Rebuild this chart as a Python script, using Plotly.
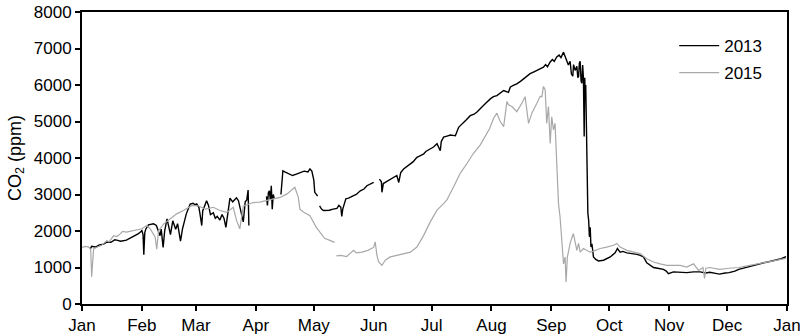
import pandas as pd
import plotly.graph_objects as go

# Day-of-year (fractional) and CO2 concentration (ppm); None marks a data gap
days_2013 = [4.3, 5, 7, 9, 11.2, 13, 15, 17, 18, 20, 23, 25, 27, 29, 30, 31, 31.6, 32, 32.5, 33,
             34.4, 36, 37, 38.5, 39.5, 40.4, 41, 42, 42.8, 44, 45, 45.8, 47, 48.5, 49.5, 51, 52, 53, 54, 55,
             56, 57.5, 58.5, 59.4, 60.5, 61, 62, 62.5, 63.5, 64.5, 65.5, 66.5, 68, 69, 70, 71.4, 72.5, 73.5,
             74.5, 75, 75.6, 76.6, 78, 79, 80, 81, 82, 82.8, 83.5, 84.5, 85.3, 86, 86.4, 87,
             95.5, 96, 96.5, 97, 97.5, 98, 98.5, 99, 99.5, 101,
             103, 103.5, 104, 105, 106, 107, 109, 111, 113, 115, 117, 118, 119, 120, 120.5, 121.5, 122, 122.5,
             123, 124, 125, 127, 128, 130, 132, 133, 134, 134.5, 135, 136.6, 138, 140.6, 142, 144.1, 146,
             147.5, 149, 151, 152,
             154, 155, 155.3, 156, 157, 159.6, 161, 163, 164, 165, 166.5, 168, 170, 171.5, 173.4, 175, 176.9,
             178, 180.3, 182, 183.8, 185.5, 186, 187.2, 189, 190.7, 192, 193.3, 195, 196, 197.6, 199, 201, 203,
             204.5, 206, 207.9, 209, 211.4, 213, 214.8, 216, 218.3, 220.8, 221.7, 223, 225.1, 227, 228.6, 230,
             232, 234, 235.5, 237, 238.9, 240, 241, 242.4, 243.5, 244.5, 245.8, 247, 248, 249.3, 250, 251,
             251.8, 252.7, 253.4, 254.1, 254.5, 255.3, 256.2, 256.7, 257.1, 257.5, 257.9, 258.4, 258.8, 259.2,
             259.6, 260, 260.3, 260.5, 260.8, 261, 261.4, 261.9, 262.3, 262.7, 263.1, 263.5, 264, 264.8, 266,
             267.4, 270, 273.5, 276, 277.2, 278.6, 280, 282.1, 285, 287.3, 289, 290.7, 292.4, 294, 295.9, 298,
             301, 302.5, 303.6, 306.2, 309.7, 313.1, 316.6, 320, 323, 325, 328, 330, 333, 335, 338, 340, 343,
             345, 348, 350, 353, 355, 358, 360, 362, 364.5]
co2_2013 = [1510, 1580, 1560, 1620, 1640, 1700, 1690, 1760, 1750, 1720, 1750, 1800, 1850, 1920, 1960, 2010, 1900, 1350, 1950, 2050,
            2170, 2180, 2200, 2150, 2000, 1870, 2050, 1550, 2000, 2330, 2100, 1900, 2280, 2050, 2200, 1720, 2050, 2300, 2470, 2600,
            2740, 2760, 2720, 2740, 2650, 2500, 2150, 2550, 2700, 2830, 2700, 2450, 2500, 2350, 2400, 2300, 2450, 2350,
            2100, 2280, 2400, 2900, 2800, 2850, 2910, 2830, 2600, 2350, 2250, 2800, 2850, 3120, 2150, None,
            2950, 2700, 3050, 3100, 2850, 3240, 2600, 3000, 2900, None,
            3000, 3300, 3650, 3620, 3600, 3560, 3520, 3560, 3600, 3640, 3620, 3700, 3640, 3400, 3060, 2970, 2960, None,
            2690, 2600, 2560, 2560, 2570, 2600, 2620, 2700, 2650, 2400, 2600, 2880, 2900, 2970, 3000, 3100, 3150,
            3240, 3280, 3330, None,
            3420, 3350, 3060, 3300, 3330, 3420, 3450, 3520, 3330, 3600, 3700, 3750, 3840, 3900, 4020, 4060, 4110,
            4180, 4250, 4300, 4390, 4200, 4450, 4570, 4600, 4630, 4620, 4610, 4840, 4900, 4980, 5050, 5160, 5200,
            5260, 5350, 5440, 5500, 5620, 5680, 5710, 5760, 5850, 5800, 5940, 5980, 6030, 6100, 6170, 6240,
            6310, 6360, 6400, 6440, 6490, 6560, 6500, 6630, 6700, 6650, 6770, 6820, 6750, 6900, 6800, 6700,
            6550, 6650, 6300, 6240, 6560, 6400, 6510, 6200, 6230, 6600, 6650, 6100, 6050, 6550,
            6200, 4590, 6200, 5700, 6000, 5140, 3860, 2490, 2300, 1840, 2100, 1560, 1650, 1290, 1220,
            1180, 1200, 1290, 1400, 1520, 1420, 1440, 1400, 1380, 1360, 1330, 1290, 1130, 1060, 1000, 980,
            950, 900, 830, 880, 860, 860, 880, 880, 850, 870, 840, 820, 850, 860, 900, 950, 990,
            1020, 1060, 1100, 1130, 1150, 1180, 1200, 1240, 1300]

days_2015 = [0, 2, 3.5, 4.5, 5, 5.5, 6, 8, 10, 12.9, 14, 16.4, 18, 19.8, 21, 23, 26, 28, 31, 33.6, 35.4,
             37.9, 38.7, 39.6, 42.2, 45.6, 49, 52.5, 57, 60, 64, 68, 71.4, 75, 78.3, 80, 81.7, 83.5, 88.6,
             92, 95.5, 99, 102.5, 106, 109.3, 110.2, 112, 112.8, 114.6, 118, 121.3, 123, 125.6, 128, 130.8,
             131.2,
             131.7, 134, 137, 140.6, 142, 145, 148, 151, 151.8, 152.7, 153.6, 155.3, 157, 159.6, 163, 166.5,
             170, 173.4, 176.9, 180.3, 183.8, 187.2, 188.9, 192.4, 195.8, 199.3, 202.7, 206.2, 209.6, 211,
             213.1, 214.8, 216.5, 218.3, 220, 220.8, 222.6, 225.1, 227.7, 229.4, 231.2, 232.9, 235.5, 237.2,
             238.1, 238.9, 239.8, 240.6, 241.5, 242.4, 243.2, 244.1, 244.9, 245.8, 246.7, 247.5, 248.4,
             249.3, 250.1, 250.6, 251.3, 252.7, 254.4, 255.3, 256.2, 257.1, 257.9, 259.6, 261.4, 263.1,
             264.8, 268.3, 271.7, 275.2, 276.9, 278.6, 282.1, 285.5, 289, 292.4, 295.9, 299.3, 302.8, 306.2,
             309.7, 313.1, 316.6, 319.2, 321.5, 322.3, 323, 325, 330, 335, 340, 345, 350, 355, 360, 364.5]
co2_2015 = [1550, 1580, 1560, 1500, 750, 1100, 1510, 1560, 1600, 1740, 1700, 1870, 1850, 1920, 1990, 1970, 2000, 2010, 2060, 2150, 2050,
            1830, 1500, 2000, 2190, 2330, 2470, 2560, 2700, 2690, 2600, 2650, 2560, 2510, 2650, 2290, 2060, 2680, 2780,
            2790, 2830, 2870, 2920, 3010, 3150, 3200, 2920, 2600, 2520, 2420, 2100, 1990, 1800, 1750, 1690,
            None,
            1320, 1330, 1300, 1470, 1400, 1420, 1470, 1550, 1700, 1330, 1150, 1060, 1200, 1290, 1330, 1380,
            1420, 1560, 1880, 2250, 2570, 2750, 2850, 3210, 3580, 3850, 4130, 4360, 4680, 4800,
            5090, 5230, 5000, 4860, 5550, 5460, 5410, 5270, 5500, 5680, 4950, 5230, 5500, 5690,
            5680, 5960, 5870, 4950, 5410, 4400, 5130, 4770, 4950, 3670, 2750, 2390, 1660,
            1100, 1290, 600, 1290, 1660, 1930, 1660, 1470, 1660, 1420, 1520, 1470, 1420,
            1450, 1520, 1560, 1610, 1660, 1560, 1470, 1420, 1380, 1240, 1150, 1100, 1060, 1060,
            1060, 1010, 1100, 920, 1000, 700, 980, 1000, 950, 980, 1000, 1050, 1100, 1150, 1200, 1250]

month_labels = ["Jan", "Feb", "Mar", "Apr", "May", "Jun", "Jul", "Aug", "Sep", "Oct", "Nov", "Dec", "Jan"]

year_start = pd.Timestamp("2013-01-01")


def to_dates(days):
    return [year_start + pd.Timedelta(days=d) for d in days]


month_starts = list(pd.date_range("2013-01-01", "2014-01-01", freq="MS"))

font_family = "Liberation Sans, Arial, sans-serif"

fig = go.Figure()
fig.add_trace(go.Scatter(x=to_dates(days_2013), y=co2_2013, mode="lines", name="2013",
                         line=dict(color="#000000", width=1.4), connectgaps=False,
                         legendgroup="a"))
fig.add_trace(go.Scatter(x=to_dates(days_2015), y=co2_2015, mode="lines", name="2015",
                         line=dict(color="#a8a8a8", width=1.2), connectgaps=False,
                         legendgroup="b"))

axis_common = dict(showline=True, linecolor="#000000", linewidth=1.8, mirror=True,
                   ticks="outside", ticklen=5, tickwidth=1.5, tickcolor="#000000",
                   showgrid=False, zeroline=False, automargin=False,
                   ticklabeloverflow="allow",
                   tickfont=dict(family=font_family, size=17, color="#000000"))

fig.update_xaxes(range=[month_starts[0], month_starts[-1]], tickvals=month_starts,
                 ticktext=month_labels, **axis_common)
fig.update_yaxes(range=[0, 8000], tickvals=list(range(0, 8001, 1000)),
                 title=dict(text="CO<sub>2</sub> (ppm)", standoff=8,
                            font=dict(family=font_family, size=18, color="#000000")),
                 **axis_common)

fig.update_layout(
    width=800, height=336,
    margin=dict(l=82, r=13, t=12, b=32, autoexpand=False),
    paper_bgcolor="#ffffff", plot_bgcolor="#ffffff",
    font=dict(family=font_family, size=17, color="#000000"),
    legend=dict(x=0.84, y=0.945, xanchor="left", yanchor="top", bgcolor="rgba(0,0,0,0)",
                traceorder="grouped", tracegroupgap=2, itemwidth=40,
                font=dict(family=font_family, size=17, color="#000000")),
)

fig.write_html("out.html")
